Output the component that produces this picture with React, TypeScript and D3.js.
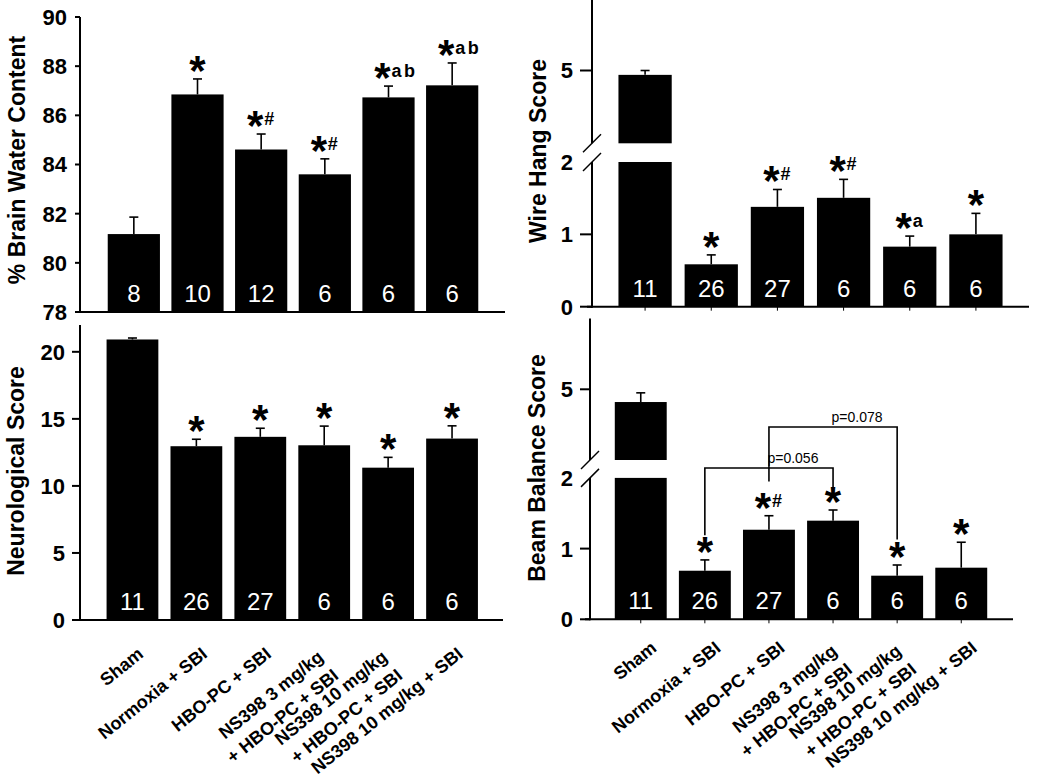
import React from "react";
import * as d3 from "d3";

// ---------- DATA ----------
const categories = [
  "Sham",
  "Normoxia + SBI",
  "HBO-PC + SBI",
  "NS398 3 mg/kg\n+ HBO-PC + SBI",
  "NS398 10 mg/kg\n+ HBO-PC + SBI",
  "NS398 10 mg/kg + SBI",
];

const brainWater = [81.17, 86.85, 84.61, 83.6, 86.73, 87.22];
const brainWaterErr = [0.69, 0.63, 0.63, 0.63, 0.46, 0.91];
const brainWaterN = [8, 10, 12, 6, 6, 6];
const brainWaterSig = ["", "*", "*#", "*#", "*ab", "*ab"];
const brainWaterTicks = [78, 80, 82, 84, 86, 88, 90];

const wireHang = [4.94, 0.586, 1.38, 1.505, 0.83, 1.0];
const wireHangErr = [0.06, 0.13, 0.24, 0.255, 0.146, 0.29];
const wireHangN = [11, 26, 27, 6, 6, 6];
const wireHangSig = ["", "*", "*#", "*#", "*a", "*"];

const neuro = [20.92, 12.96, 13.66, 13.03, 11.36, 13.53];
const neuroErr = [0.11, 0.52, 0.64, 1.43, 0.77, 0.95];
const neuroN = [11, 26, 27, 6, 6, 6];
const neuroSig = ["", "*", "*", "*", "*", "*"];
const neuroTicks = [0, 5, 10, 15, 20];

const beam = [4.82, 0.687, 1.267, 1.395, 0.617, 0.73];
const beamErr = [0.13, 0.153, 0.198, 0.151, 0.151, 0.36];
const beamN = [11, 26, 27, 6, 6, 6];
const beamSig = ["", "*", "*#", "*", "*", "*"];

const brokenTicksLow = [0, 1, 2];
const brokenTicksHigh = [5];

// brackets: [fromIdx, toIdx, level, leftLegEnd, rightLegEnd, label]
const beamBrackets: [number, number, number, number, number, string][] = [
  [1, 3, 2.14, 1.19, 1.85, "p=0.056"],
  [2, 4, 2.72, 1.95, 1.13, "p=0.078"],
];

const FONT = "'Liberation Sans', Arial, Helvetica, sans-serif";

type Cfg = {
  title: string;
  titleX: number;
  titleY: number;
  values: number[];
  errs: number[];
  ns: number[];
  sigs: string[];
  axisX: number;
  band: [number, number];
  padIn: number;
  xAxis: [number, number];
  linear?: { domain: [number, number]; range: [number, number]; ticks: number[] };
  broken?: { low: [number, number]; high: [number, number]; top: number };
  tickLen: number;
  labelRight: number;
  xTicks: boolean;
  labels?: { dx: number; y: number };
  brackets?: typeof beamBrackets;
};

function Panel({ c }: { c: Cfg }) {
  const x = d3
    .scaleBand<string>()
    .domain(d3.range(6).map(String))
    .range(c.band)
    .paddingInner(c.padIn)
    .paddingOuter(c.padIn / 2);
  const bw = x.bandwidth();
  const cx = (i: number) => (x(String(i)) as number) + bw / 2;

  let y: (v: number) => number;
  let lowS: d3.ScaleLinear<number, number> | null = null;
  let highS: d3.ScaleLinear<number, number> | null = null;
  let y0: number;
  let axisTop: number;
  let ticks: number[];
  if (c.linear) {
    const s = d3.scaleLinear().domain(c.linear.domain).range(c.linear.range);
    y = (v) => s(v);
    y0 = s(c.linear.domain[0]);
    axisTop = s(c.linear.domain[1]);
    ticks = c.linear.ticks;
  } else {
    const b = c.broken!;
    lowS = d3.scaleLinear().domain([0, 2]).range(b.low);
    highS = d3.scaleLinear().domain([4, 6]).range(b.high);
    y = (v) => (v <= 3 ? lowS!(v) : highS!(v));
    y0 = lowS(0);
    axisTop = Math.max(0, highS(b.top));
    ticks = [...brokenTicksLow, ...brokenTicksHigh];
  }

  const ax = c.axisX;
  const lw = 2;

  return (
    <g fontFamily={FONT}>
      {/* y axis */}
      {c.linear ? (
        <line x1={ax} x2={ax} y1={axisTop} y2={y0 + 1} stroke="#000" strokeWidth={lw} />
      ) : (
        <g>
          <line x1={ax} x2={ax} y1={axisTop} y2={highS!(4)} stroke="#000" strokeWidth={lw} />
          <line x1={ax} x2={ax} y1={lowS!(2)} y2={y0 + 1} stroke="#000" strokeWidth={lw} />
          {[highS!(4), lowS!(2)].map((cy, k) => (
            <line key={k} x1={ax - 9} x2={ax + 9} y1={cy + 9} y2={cy - 9} stroke="#000" strokeWidth={1.5} />
          ))}
        </g>
      )}
      {/* y ticks */}
      {ticks.map((t) => (
        <g key={t}>
          {t !== 2 || c.linear ? (
            <line x1={ax - c.tickLen} x2={ax} y1={y(t)} y2={y(t)} stroke="#000" strokeWidth={lw} />
          ) : null}
          <text
            x={c.labelRight}
            y={y(t)}
            dy="0.36em"
            textAnchor="end"
            fontWeight="bold"
            fontSize={22}
          >
            {t}
          </text>
        </g>
      ))}
      {/* x axis */}
      <line x1={c.xAxis[0]} x2={c.xAxis[1]} y1={y0} y2={y0} stroke="#000" strokeWidth={lw} />
      {c.xTicks &&
        c.values.map((_, i) => (
          <line key={i} x1={cx(i)} x2={cx(i)} y1={y0} y2={y0 + 4} stroke="#000" strokeWidth={1} />
        ))}
      {/* bars */}
      {c.values.map((v, i) => {
        const x0 = x(String(i)) as number;
        const e = c.errs[i];
        const et = y(v + e);
        const parts =
          c.broken && v > 3 ? (
            <g>
              <rect x={x0} width={bw} y={lowS!(2)} height={y0 - lowS!(2)} fill="#000" />
              <rect x={x0} width={bw} y={highS!(v)} height={highS!(4) - highS!(v)} fill="#000" />
            </g>
          ) : (
            <rect x={x0} width={bw} y={y(v)} height={y0 - y(v)} fill="#000" />
          );
        const sig = c.sigs[i];
        const suffix = sig.slice(1);
        return (
          <g key={i}>
            {parts}
            <line x1={cx(i)} x2={cx(i)} y1={y(v)} y2={et} stroke="#000" strokeWidth={1.6} />
            <line x1={cx(i) - 4.5} x2={cx(i) + 4.5} y1={et} y2={et} stroke="#000" strokeWidth={1.6} />
            <text
              x={cx(i)}
              y={y0 - 10}
              textAnchor="middle"
              fill="#fff"
              fontSize={24}
            >
              {c.ns[i]}
            </text>
            {sig ? (
              <g>
                <text
                  x={cx(i) - (suffix ? 6 : 0)}
                  y={et + 6}
                  textAnchor="middle"
                  fontWeight="bold"
                  fontSize={42}
                >
                  *
                </text>
                {suffix ? (
                  <text x={cx(i) + 3} y={et - 9} fontWeight="bold" fontSize={18} letterSpacing={suffix.length > 1 ? 2.5 : 0}>
                    {suffix}
                  </text>
                ) : null}
              </g>
            ) : null}
          </g>
        );
      })}
      {/* brackets */}
      {c.brackets &&
        lowS &&
        c.brackets.map(([a, b, lev, la, lb, lab], k) => {
          const xa = cx(a);
          const xb = cx(b);
          const yl = lowS!(lev);
          return (
            <g key={k}>
              <path
                d={`M${xa},${lowS!(la)}V${yl}H${xb}V${lowS!(lb)}`}
                fill="none"
                stroke="#000"
                strokeWidth={1.6}
              />
              <text x={(xa + xb) / 2 + 24} y={yl - 5} textAnchor="middle" fontSize={14}>
                {lab}
              </text>
            </g>
          );
        })}
      {/* title */}
      <text
        transform={`translate(${c.titleX},${c.titleY}) rotate(-90)`}
        textAnchor="middle"
        dy="0.36em"
        fontWeight="bold"
        fontSize={23}
      >
        {c.title}
      </text>
      {/* category labels */}
      {c.labels &&
        categories.map((cat, i) => {
          const lines = cat.split("\n");
          const n = lines.length;
          const along = n > 1 ? -11 : 0;
          return (
            <text
              key={i}
              transform={`translate(${cx(i) + c.labels!.dx},${c.labels!.y}) rotate(-39)`}
              textAnchor="end"
              fontWeight="bold"
              fontSize={18}
            >
              {lines.map((l, j) => (
                <tspan key={j} x={along} y={n > 1 ? -5 + j * 24 : 0}>
                  {l}
                </tspan>
              ))}
            </text>
          );
        })}
    </g>
  );
}

const panels: Cfg[] = [
  {
    title: "% Brain Water Content",
    titleX: 17,
    titleY: 160,
    values: brainWater,
    errs: brainWaterErr,
    ns: brainWaterN,
    sigs: brainWaterSig,
    axisX: 80,
    band: [102, 484],
    padIn: 0.18,
    xAxis: [77, 505],
    linear: { domain: [78, 90], range: [312, 17], ticks: brainWaterTicks },
    tickLen: 5,
    labelRight: 67,
    xTicks: false,
  },
  {
    title: "Wire Hang Score",
    titleX: 538,
    titleY: 151,
    values: wireHang,
    errs: wireHangErr,
    ns: wireHangN,
    sigs: wireHangSig,
    axisX: 592,
    band: [612, 1009],
    padIn: 0.195,
    xAxis: [587, 1029],
    broken: { low: [306.7, 162], high: [143.3, -2.3], top: 6 },
    tickLen: 12,
    labelRight: 573,
    xTicks: true,
  },
  {
    title: "Neurological Score",
    titleX: 16,
    titleY: 471,
    values: neuro,
    errs: neuroErr,
    ns: neuroN,
    sigs: neuroSig,
    axisX: 80,
    band: [100.5, 484],
    padIn: 0.19,
    xAxis: [77, 503],
    linear: { domain: [0, 22], range: [620, 325], ticks: neuroTicks },
    tickLen: 8,
    labelRight: 65,
    xTicks: false,
    labels: { dx: 12, y: 656 },
  },
  {
    title: "Beam Balance Score",
    titleX: 537,
    titleY: 468,
    values: beam,
    errs: beamErr,
    ns: beamN,
    sigs: beamSig,
    axisX: 590,
    band: [608.7, 993.3],
    padIn: 0.19,
    xAxis: [585, 1013],
    broken: { low: [619.3, 477.9], high: [460, 318.6], top: 6 },
    tickLen: 10,
    labelRight: 573,
    xTicks: true,
    labels: { dx: 17, y: 650 },
    brackets: beamBrackets,
  },
];

export default function App() {
  return (
    <svg
      width={1050}
      height={783}
      viewBox="0 0 1050 783"
      style={{ position: "absolute", left: 0, top: 0, background: "#fff" }}
    >
      <rect width={1050} height={783} fill="#fff" />
      {panels.map((c, i) => (
        <Panel key={i} c={c} />
      ))}
    </svg>
  );
}
